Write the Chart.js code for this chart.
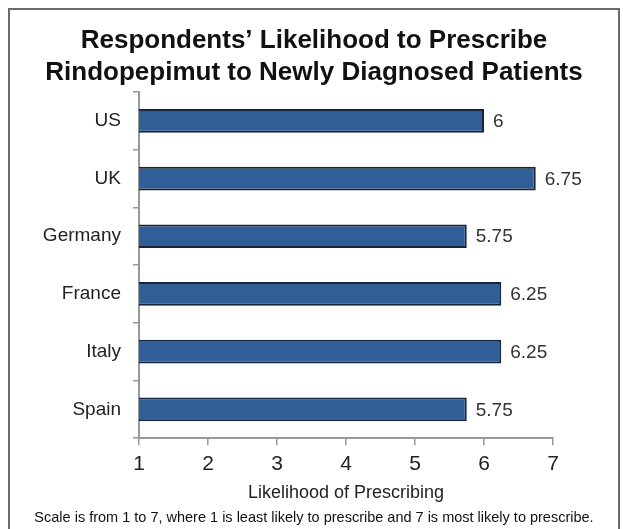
<!DOCTYPE html>
<html>
<head>
<meta charset="utf-8">
<script src="https://cdn.jsdelivr.net/npm/chart.js@4"></script>
<style>
  html, body { margin: 0; padding: 0; background: #fff; overflow: hidden; }
  #frame { position: absolute; left: 8px; top: 8px; width: 608px; height: 530px;
           border: 2px solid #6a6a6a; border-bottom: none; }
  #likelihoodChart { position: absolute; left: 0; top: 0; }
</style>
</head>
<body>
<div id="frame"></div>
<canvas id="likelihoodChart" width="623" height="529"></canvas>
<script>
// data
var countries = ['US', 'UK', 'Germany', 'France', 'Italy', 'Spain'];
var likelihood = [6, 6.75, 5.75, 6.25, 6.25, 5.75];
var scaleTicks = [1, 2, 3, 4, 5, 6, 7];

var titleLines = ['Respondents\u2019 Likelihood to Prescribe', 'Rindopepimut to Newly Diagnosed Patients'];
var footnote = 'Scale is from 1 to 7, where 1 is least likely to prescribe and 7 is most likely to prescribe.';

// value labels at the end of each bar
var valueLabels = {
    id: 'valueLabels',
    afterDatasetsDraw: function(chart) {
        var ctx = chart.ctx;
        var meta = chart.getDatasetMeta(0);
        ctx.save();
        ctx.font = '19px "Liberation Sans", Arial, sans-serif';
        ctx.fillStyle = '#333';
        ctx.textAlign = 'left';
        ctx.textBaseline = 'middle';
        meta.data.forEach(function(bar, i) {
            ctx.fillText(String(likelihood[i]), bar.x + 9, bar.y + 1);
        });
        ctx.restore();
    }
};

// title and footnote centred on the whole frame, not the padded box
var frameText = {
    id: 'frameText',
    afterDraw: function(chart) {
        var ctx = chart.ctx;
        var cx = 314;
        ctx.save();
        ctx.textAlign = 'center';
        ctx.textBaseline = 'middle';
        ctx.fillStyle = '#111';
        ctx.font = 'bold 26px "Liberation Sans", Arial, sans-serif';
        ctx.fillText(titleLines[0], cx, 41);
        ctx.fillText(titleLines[1], cx, 73);
        ctx.font = '14.5px "Liberation Sans", Arial, sans-serif';
        ctx.fillText(footnote, cx, 518);
        ctx.restore();
    }
};

var ctx = document.getElementById('likelihoodChart').getContext('2d');
var likelihoodChart = new Chart(ctx, {
    type: 'bar',
    data: {
        labels: countries,
        datasets: [{
            label: 'Likelihood',
            data: likelihood,
            backgroundColor: '#2f5f96',
            borderColor: '#15253a',
            borderWidth: 2,
            borderSkipped: false,
            categoryPercentage: 1,
            barPercentage: 0.41
        }]
    },
    options: {
        indexAxis: 'y',
        responsive: false,
        animation: false,
        layout: {
            padding: { left: 9, right: 70, top: 92, bottom: 25 }
        },
        plugins: {
            legend: { display: false },
            tooltip: { enabled: false },
            title: { display: false }
        },
        scales: {
            x: {
                type: 'linear',
                min: 1,
                max: 7,
                afterBuildTicks: function(scale) {
                    scale.ticks = scaleTicks.map(function(v) { return { value: v }; });
                },
                grid: { drawOnChartArea: false, color: '#999', tickLength: 7, lineWidth: 1.5 },
                border: { color: '#999', width: 2 },
                ticks: {
                    color: '#222',
                    padding: 6,
                    font: { family: '"Liberation Sans", Arial, sans-serif', size: 21 }
                },
                title: {
                    display: true,
                    text: 'Likelihood of Prescribing',
                    color: '#222',
                    padding: { top: 0, bottom: 0 },
                    font: { family: '"Liberation Sans", Arial, sans-serif', size: 18 }
                }
            },
            y: {
                afterFit: function(scale) { scale.width = 130; },
                grid: { drawOnChartArea: false, offset: true, color: '#999', tickLength: 6, lineWidth: 1.5 },
                border: { color: '#999', width: 2 },
                ticks: {
                    color: '#222',
                    padding: 12,
                    font: { family: '"Liberation Sans", Arial, sans-serif', size: 19 }
                }
            }
        }
    },
    plugins: [valueLabels, frameText]
});
</script>
</body>
</html>
